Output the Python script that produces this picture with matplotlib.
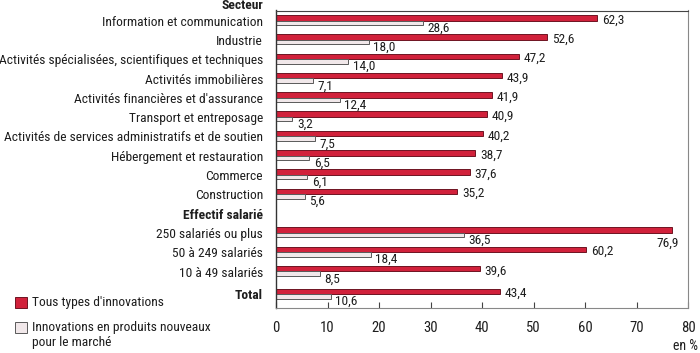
import matplotlib
matplotlib.use("Agg")
import matplotlib.pyplot as plt
from matplotlib.patches import Rectangle
from matplotlib import font_manager

# pick a condensed sans face if one is installed, else regular Liberation Sans
names = {f.name: f for f in font_manager.fontManager.ttflist}
narrow = None
for cand in ['Liberation Sans Narrow', 'Arial Narrow', 'Roboto Condensed',
             'Open Sans Condensed', 'Noto Sans Condensed', 'DejaVu Sans Condensed']:
    if cand in names:
        narrow = cand
        break
if narrow is None:
    for f in font_manager.fontManager.ttflist:
        if ('Narrow' in f.name or 'Condensed' in f.name) and 'Mono' not in f.name \
                and 'Serif' not in f.name:
            narrow = f.name
            break
if narrow is not None and narrow != 'DejaVu Sans Condensed':
    FONT = [narrow, 'Liberation Sans', 'DejaVu Sans']
    SCALE = 1.0
else:
    FONT = ['Liberation Sans', 'DejaVu Sans']
    SCALE = 0.88
plt.rcParams['font.family'] = FONT

sectors = ["Information et communication", "Industrie",
           "Activités spécialisées, scientifiques et techniques",
           "Activités immobilières", "Activités financières et d'assurance",
           "Transport et entreposage",
           "Activités de services administratifs et de soutien",
           "Hébergement et restauration", "Commerce", "Construction"]
sector_all = [62.3, 52.6, 47.2, 43.9, 41.9, 40.9, 40.2, 38.7, 37.6, 35.2]
sector_new = [28.6, 18.0, 14.0, 7.1, 12.4, 3.2, 7.5, 6.5, 6.1, 5.6]

sizes = ["250 salariés ou plus", "50 à 249 salariés", "10 à 49 salariés"]
size_all = [76.9, 60.2, 39.6]
size_new = [36.5, 18.4, 8.5]

total_label = "Total"
total_all = [43.4]
total_new = [10.6]

headers = ["Secteur", "Effectif salarié"]
legend_labels = ["Tous types d'innovations",
                 "Innovations en produits nouveaux\npour le marché"]
xticks = [0, 10, 20, 30, 40, 50, 60, 70, 80]
unit_label = "en %"

RED = "#d1213b"
RED_EDGE = "#6e1422"
GRAY = "#f1e8ea"
GRAY_EDGE = "#5a5a5a"
TXT = "#1e1e1e"

FS_CAT = 9.7 * SCALE
FS_VAL = 9.6 * SCALE
FS_TICK = 10.6 * SCALE

labels = sectors + sizes + [total_label]
vals_all = sector_all + size_all + total_all
vals_new = sector_new + size_new + total_new
pos = list(range(len(sectors))) + [len(sectors) + 1 + i for i in range(len(sizes))] \
      + [len(sectors) + len(sizes) + 1.18]

fig = plt.figure(figsize=(7.0, 3.53), dpi=100)
ax = fig.add_axes([276/700, 1 - 308/353, 412/700, (308 - 10.5)/353])

h_red = 0.285
h_gray = 0.233
off = (h_red + h_gray) / 2

yr = pos
yg = [p + off for p in pos]
ax.barh(yr, vals_all, height=h_red, color=RED, edgecolor=RED_EDGE, linewidth=0.7)
ax.barh(yg, vals_new, height=h_gray, color=GRAY, edgecolor=GRAY_EDGE, linewidth=0.7)

ax.set_xlim(0, 80)
ax.set_ylim(15.04, -0.376)

fmt = lambda v: f"{v:.1f}".replace(".", ",")
vmax = max(vals_all)
for y, v in zip(yr, vals_all):
    if v == vmax:
        ax.annotate(fmt(v), xy=(v, y), xytext=(5, -9.5), textcoords="offset points",
                    ha="right", va="center", fontsize=FS_VAL, color=TXT)
    else:
        ax.annotate(fmt(v), xy=(v, y), xytext=(3.5, -1.6), textcoords="offset points",
                    ha="left", va="center", fontsize=FS_VAL, color=TXT)
for y, v in zip(yg, vals_new):
    ax.annotate(fmt(v), xy=(v, y), xytext=(3.2, -3.8), textcoords="offset points",
                ha="left", va="center", fontsize=FS_VAL, color=TXT)

for lab, p in zip(labels, pos):
    bold = lab == total_label
    ax.annotate(lab, xy=(0, p + h_red / 2), xycoords=("axes fraction", "data"),
                xytext=(-9.4, -1.2), textcoords="offset points", ha="right", va="center",
                fontsize=FS_CAT, fontweight="bold" if bold else "normal", color=TXT)
ax.annotate(headers[0], xy=(0, -0.376), xycoords=("axes fraction", "data"),
            xytext=(-9.4, 3.4), textcoords="offset points", ha="right", va="center",
            fontsize=FS_CAT, fontweight="bold", color=TXT)
ax.annotate(headers[1], xy=(0, len(sectors) + h_red / 2), xycoords=("axes fraction", "data"),
            xytext=(-9.4, -1.2), textcoords="offset points", ha="right", va="center",
            fontsize=FS_CAT, fontweight="bold", color=TXT)

ax.set_xticks(xticks)
ax.set_xticklabels([str(t) for t in xticks], fontsize=FS_TICK, color=TXT)
ax.set_yticks([])
ax.tick_params(axis="x", direction="in", length=4.5, width=0.8, color="#444444", pad=9.5)
for side, c, lw in [("left", "#333333", 1.0), ("top", "#444444", 0.8),
                    ("right", "#888888", 0.8), ("bottom", "#888888", 0.8)]:
    ax.spines[side].set_color(c)
    ax.spines[side].set_linewidth(lw)

fig.text(698/700, 1 - 346/353, unit_label, ha="right", va="center", fontsize=10 * SCALE, color=TXT)

fig.patches.append(Rectangle((15/700, 1 - 308/353), 12/700, 11/353, transform=fig.transFigure,
                             facecolor=RED, edgecolor=RED_EDGE, linewidth=0.7))
fig.patches.append(Rectangle((15/700, 1 - 333/353), 12/700, 11/353, transform=fig.transFigure,
                             facecolor=GRAY, edgecolor=GRAY_EDGE, linewidth=0.7))
fig.text(32/700, 1 - 302.5/353, legend_labels[0], ha="left", va="center", fontsize=FS_CAT, color=TXT)
fig.text(32/700, 1 - 335/353, legend_labels[1], ha="left", va="center", fontsize=FS_CAT,
         color=TXT, linespacing=1.25)

fig.savefig("out.png", dpi=100)
